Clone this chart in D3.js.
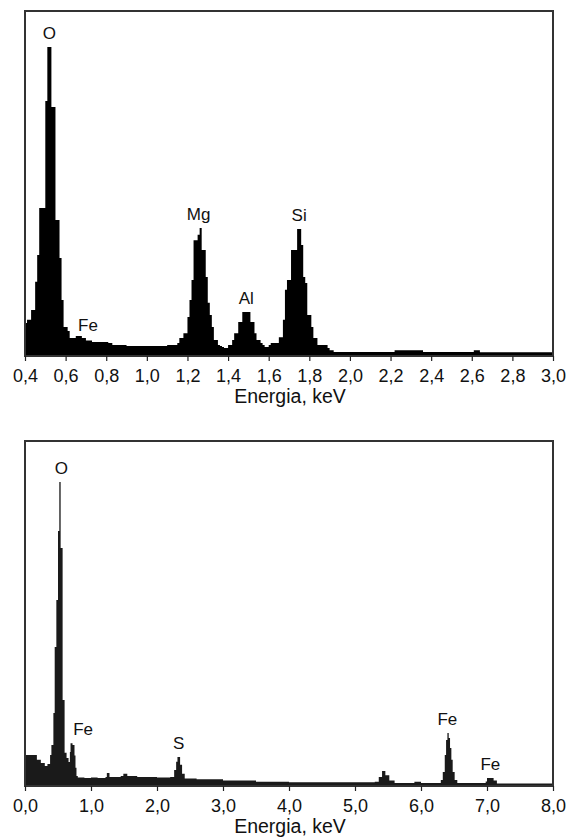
<!DOCTYPE html>
<html>
<head>
<meta charset="utf-8">
<script src="https://cdn.jsdelivr.net/npm/d3@7"></script>
<style>
  body { margin: 0; background: #fff; }
  text { font-family: "Liberation Sans", Arial, sans-serif; fill: #111; }
  .axis path { display: none; }
  .axis line { stroke: #222; stroke-width: 1.2; }
</style>
</head>
<body>
<svg width="569" height="837"></svg>
<script>
const width = 569
const height = 837

// spectrum 1: [energy keV (bin start), relative counts]
const topSpectrum = [
  [0.40,107],[0.41,117],[0.43,149],[0.45,240],[0.46,327],[0.47,479],[0.50,825],[0.51,1000],
  [0.53,806],[0.55,440],[0.57,317],[0.58,181],[0.59,94],[0.61,81],[0.62,58],[0.65,65],
  [0.68,58],[0.70,50],[0.73,45],[0.76,45],[0.79,45],[0.81,42],[0.83,36],[0.90,32],
  [1.10,36],[1.15,42],[1.16,58],[1.18,74],[1.20,126],[1.21,181],[1.22,246],[1.23,375],
  [1.25,392],[1.26,414],[1.27,343],[1.29,256],[1.30,172],[1.31,133],[1.32,94],[1.33,52],
  [1.35,36],[1.36,32],[1.37,29],[1.38,26],[1.40,36],[1.42,52],[1.43,74],[1.45,110],
  [1.47,142],[1.51,110],[1.53,74],[1.54,52],[1.56,42],[1.57,36],[1.58,29],[1.60,36],
  [1.61,42],[1.65,61],[1.67,117],[1.68,214],[1.69,246],[1.71,343],[1.74,411],[1.76,359],
  [1.77,256],[1.78,236],[1.79,133],[1.81,94],[1.82,58],[1.84,36],[1.89,26],[1.90,19],
  [1.92,13],[2.22,19],[2.36,13],[2.61,19],[2.64,12],[3.00,12]
]
const topTicks = [0.4,0.6,0.8,1.0,1.2,1.4,1.6,1.8,2.0,2.2,2.4,2.6,2.8,3.0]
const topPeaks = [
  { label: "O", e: 0.52, c: 1000 },
  { label: "Fe", e: 0.71, c: 55 },
  { label: "Mg", e: 1.255, c: 414 },
  { label: "Al", e: 1.49, c: 142 },
  { label: "Si", e: 1.75, c: 411 }
]

// spectrum 2
const botSpectrum = [
  [0.00,102],[0.18,86],[0.24,76],[0.30,66],[0.34,72],[0.38,102],[0.40,135],[0.43,240],
  [0.45,457],[0.475,612],[0.50,839],[0.52,1000],[0.54,783],[0.57,283],[0.60,109],[0.63,92],
  [0.66,79],[0.68,112],[0.69,141],[0.72,135],[0.75,100],[0.765,60],[0.78,33],[0.80,28],
  [0.90,26],[1.00,28],[1.10,26],[1.22,30],[1.24,43],[1.28,30],[1.45,33],[1.49,40],
  [1.55,33],[1.70,30],[2.00,28],[2.20,30],[2.26,53],[2.29,80],[2.31,95],[2.35,70],
  [2.38,40],[2.42,25],[2.60,22],[3.00,18],[3.50,14],[4.00,12],[5.00,12],[5.30,14],
  [5.36,30],[5.41,49],[5.46,35],[5.52,18],[5.60,10],[5.90,14],[6.00,10],[6.30,20],
  [6.33,46],[6.36,102],[6.38,151],[6.40,174],[6.42,158],[6.44,125],[6.46,86],[6.48,46],
  [6.51,20],[6.55,10],[6.98,15],[7.00,26],[7.10,18],[7.15,8],[8.00,7]
]
const botTicks = [0,1,2,3,4,5,6,7,8]
const botPeaks = [
  { label: "O", e: 0.55, c: 1000 },
  { label: "Fe", e: 0.88, c: 141 },
  { label: "S", e: 2.33, c: 95 },
  { label: "Fe", e: 6.40, c: 174 },
  { label: "Fe", e: 7.05, c: 26 }
]

const svg = d3.select("svg")
const fmt = function(d) { return d3.format(".1f")(d).replace(".", ",") }

function panel(cfg) {
  const x = d3.scaleLinear().domain(cfg.xDomain).range([25, 553])
  const y = d3.scaleLinear().domain([0, 1000]).range([cfg.bottom, cfg.peakTop])
  const g = svg.append("g").attr("class", "panel")

  const area = d3.area()
    .curve(d3.curveStepAfter)
    .x(function(d) { return x(d[0]) })
    .y0(cfg.bottom)
    .y1(function(d) { return y(d[1]) })

  g.append("path")
    .datum(cfg.data)
    .attr("d", area)
    .attr("fill", cfg.fill)

  g.append("rect")
    .attr("x", 25).attr("y", cfg.top)
    .attr("width", 528).attr("height", cfg.bottom - cfg.top)
    .attr("fill", "none")
    .attr("stroke", "#333")
    .attr("stroke-width", 2)

  g.append("g")
    .attr("class", "axis")
    .attr("transform", "translate(0," + cfg.bottom + ")")
    .call(d3.axisBottom(x).tickValues(cfg.ticks).tickFormat(fmt).tickSize(5).tickSizeOuter(0).tickPadding(8))
    .selectAll("text")
    .style("font-size", "18px")

  g.append("text")
    .attr("x", 290)
    .attr("y", cfg.bottom + 47)
    .attr("text-anchor", "middle")
    .style("font-size", "19.5px")
    .text("Energia, keV")

  g.selectAll("text.peak")
    .data(cfg.peaks)
    .enter()
    .append("text")
    .attr("class", "peak")
    .attr("x", function(d) { return x(d.e) })
    .attr("y", function(d) { return y(d.c) - 8 })
    .attr("text-anchor", "middle")
    .style("font-size", "17px")
    .text(function(d) { return d.label })
}

panel({ data: topSpectrum, xDomain: [0.4, 3.0], ticks: topTicks, peaks: topPeaks,
  top: 11, bottom: 356, peakTop: 47, fill: "#000" })
panel({ data: botSpectrum, xDomain: [0, 8], ticks: botTicks, peaks: botPeaks,
  top: 441, bottom: 786, peakTop: 482, fill: "#1a1a1a" })
</script>
</body>
</html>
